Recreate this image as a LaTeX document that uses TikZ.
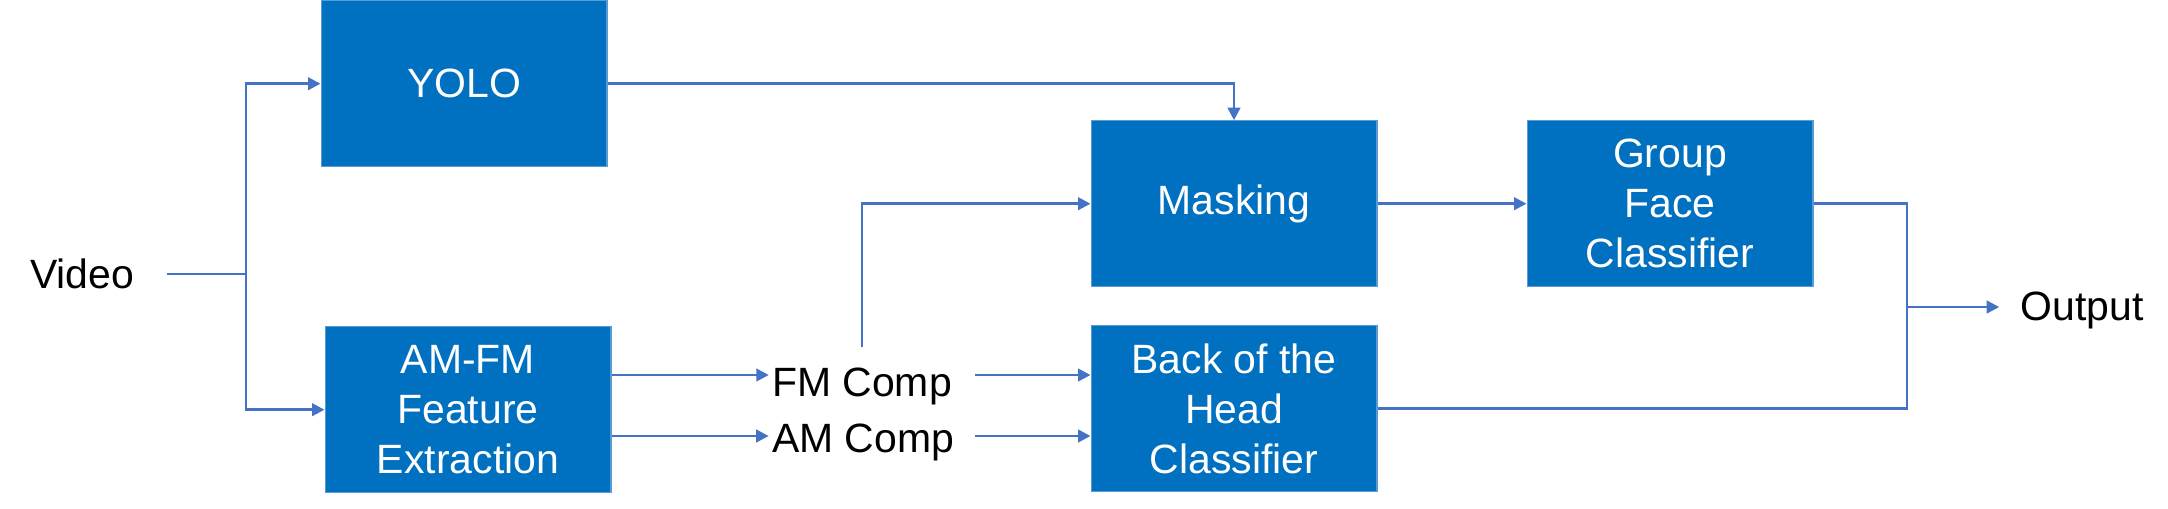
\documentclass[tikz,border=0pt]{standalone}
\usepackage{fontspec}
\setmainfont{Liberation Sans}
\usetikzlibrary{arrows.meta}
\definecolor{boxBlue}{RGB}{0, 112, 192}
\definecolor{boxEdge}{RGB}{91, 155, 213}
\definecolor{lineBlue}{RGB}{68, 114, 196}

\tikzset{
  block/.style={fill=boxBlue, draw=boxEdge, line width=0.6pt, text=white,
    minimum width=5.72cm, minimum height=3.32cm, align=center, inner sep=0pt,
    font=\fontsize{23.3}{28.45}\selectfont},
  lbl/.style={text=black, inner sep=0pt, font=\fontsize{23.3}{28.45}\selectfont},
  wire/.style={draw=lineBlue, line width=1.5pt},
  arr/.style={wire, -{Triangle[length=0.25cm, width=0.25cm]}}
}

\begin{document}
\begin{tikzpicture}[x=0.02cm, y=-0.02cm]
      \useasboundingbox (0,0) rectangle (2168,508);

      \node[block] (yolo) at (464,83.7) {YOLO};
      \node[block] (amfm) at (468,409.7) {AM-FM\\Feature\\Extraction};
      \node[block] (mask) at (1234,203.7) {Masking};
      \node[block] (back) at (1234,408.7) {Back of the\\Head\\Classifier};
      \node[block] (group) at (1670,203.7) {Group\\Face\\Classifier};

      \node[lbl, anchor=base] (video) at (82,288) {Video};
      \node[lbl, anchor=base] (fm) at (862,396) {FM Comp};
      \node[lbl, anchor=base] (am) at (863,452) {AM Comp};
      \node[lbl, anchor=base] (out) at (2082,320.7) {Output};

      \coordinate (split) at (246,274);
      \coordinate (merge) at (1907,307);
      \coordinate (fmrow) at (0,375);
      \coordinate (amrow) at (0,436);

      \draw[wire, shorten <=0.66cm] (video.east |- split) -- (split);
      \draw[arr] (split) |- (yolo.west);
      \draw[arr] (split) |- (amfm.west);

      \draw[arr] (yolo.east) -| (mask.north);

      \draw[arr, shorten >=0.06cm] (amfm.east |- fmrow) -- (fm.west |- fmrow);
      \draw[arr, shorten >=0.06cm] (amfm.east |- amrow) -- (am.west |- amrow);
      \draw[arr, shorten <=0.46cm] (fm.east |- fmrow) -- (back.west |- fmrow);
      \draw[arr, shorten <=0.42cm] (am.east |- amrow) -- (back.west |- amrow);
      \draw[arr, shorten <=0.4cm] (fm.north) |- (mask.west);

      \draw[arr] (mask.east) -- (group.west);
      \draw[wire] (group.east) -| (merge);
      \draw[wire] (back.east) -| (merge);
      \draw[arr, shorten >=0.42cm] (merge) -- (out.west |- merge);
    \end{tikzpicture}
\end{document}
